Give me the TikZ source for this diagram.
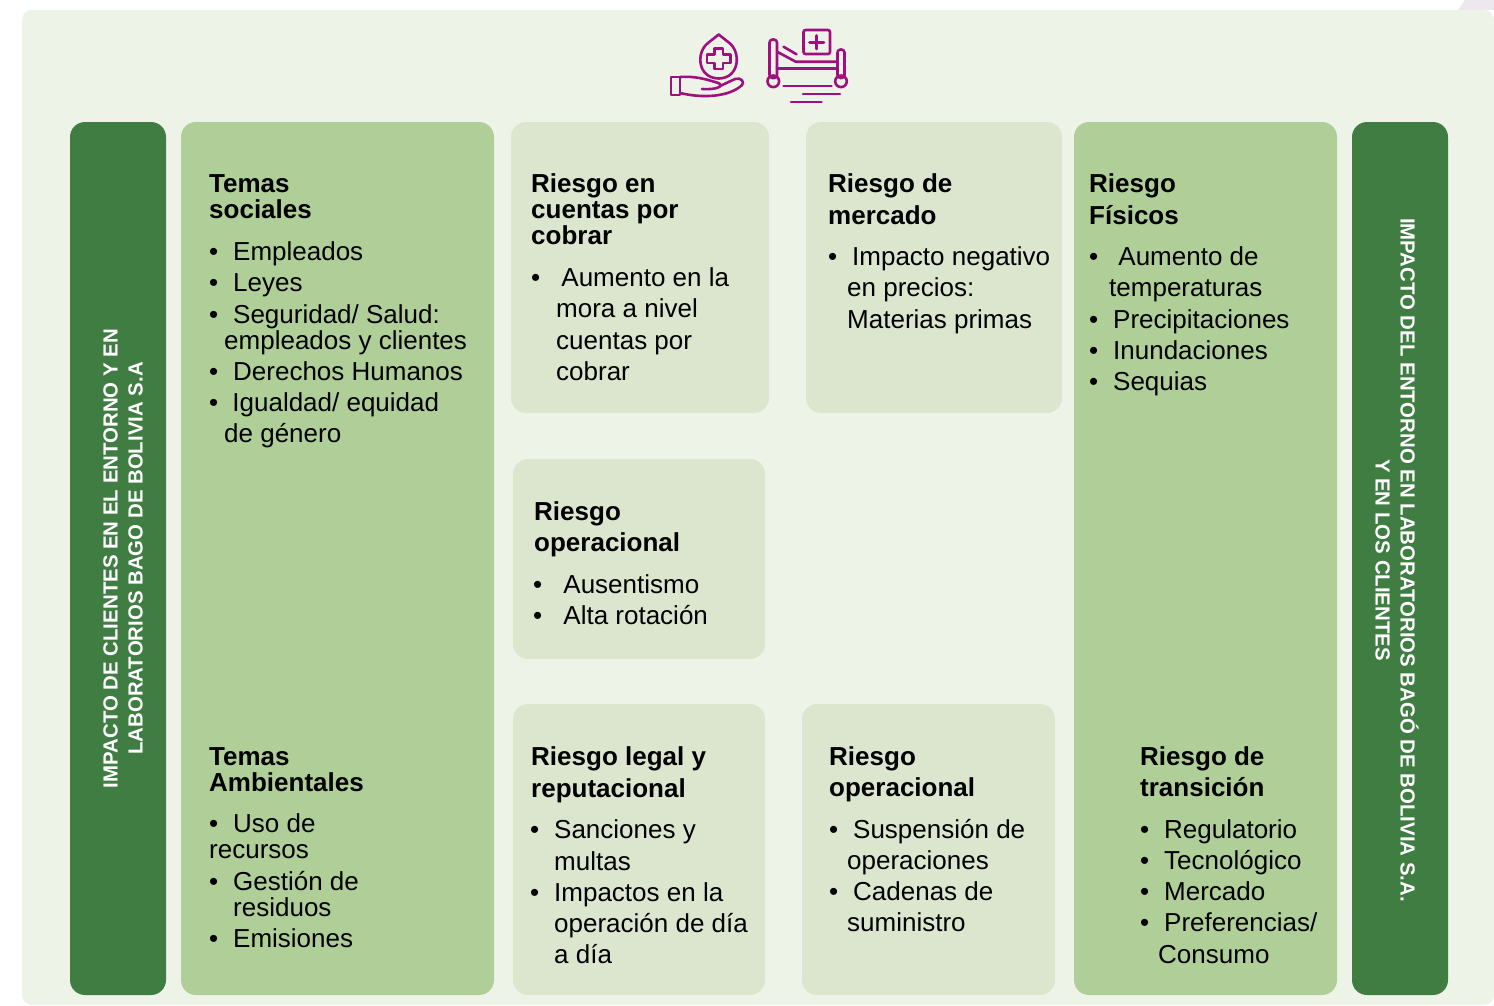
\documentclass[tikz,border=0pt]{standalone}
\usepackage{fontspec}
\setmainfont{Liberation Sans}
\definecolor{paneBg}{HTML}{EEF3E8}
\definecolor{darkGreen}{HTML}{3F7D42}
\definecolor{midGreen}{HTML}{AFCE98}
\definecolor{paleGreen}{HTML}{DCE6CE}
\definecolor{iconPink}{HTML}{A00F80}
\definecolor{cornerTint}{HTML}{ECE8EE}
\newcommand{\blt}[1][24]{\makebox[#1pt][l]{\textbullet}}
\tikzset{
	card/.style={anchor=north west, inner sep=0, outer sep=0, rounded corners=15pt},
	darkcard/.style={card, fill=darkGreen, minimum width=96pt, minimum height=873pt},
	midcard/.style={card, fill=midGreen},
	palecard/.style={card, fill=paleGreen},
	head/.style={anchor=base west, inner sep=0, font=\fontsize{26}{26}\selectfont\bfseries},
	body/.style={anchor=base west, inner sep=0, font=\fontsize{26}{26}\selectfont},
	vert/.style={inner sep=0, align=center, text=white, font=\fontsize{20.4}{25}\selectfont\bfseries},
	icon/.style={draw=iconPink, line width=2.6pt, line join=round, line cap=round}
}
\begin{document}
\begin{tikzpicture}[x=1pt, y=-1pt]
	\useasboundingbox (0,0) rectangle (1494,1005);

	\fill[cornerTint] (1458,10) -- (1465,0) -- (1494,0) -- (1494,10) -- cycle;
	\fill[paneBg, rounded corners=10pt] (22,10) -- (1494,10) -- (1494,1005) -- (22,1005) -- cycle;

	\node[darkcard] (leftbar) at (70,122) {};
	\node[midcard, minimum width=313pt, minimum height=873pt] (temas) at (181,122) {};
	\node[palecard, minimum width=258pt, minimum height=291pt] (cuentas) at (511,122) {};
	\node[palecard, minimum width=256pt, minimum height=291pt] (mercado) at (806,122) {};
	\node[palecard, minimum width=252pt, minimum height=200pt] (opA) at (513,459) {};
	\node[palecard, minimum width=252pt, minimum height=291pt] (legal) at (513,704) {};
	\node[palecard, minimum width=253pt, minimum height=291pt] (opB) at (802,704) {};
	\node[midcard, minimum width=263pt, minimum height=873pt] (fisicos) at (1074,122) {};
	\node[darkcard] (rightbar) at (1352,122) {};

	\node[vert, rotate=90] (leftlabel) at (leftbar.center) [yshift=-5pt] {IMPACTO DE CLIENTES EN EL ENTORNO Y EN\\LABORATORIOS BAGO DE BOLIVIA S.A};
	\node[vert, rotate=-90] (rightlabel) at (1397,560) {IMPACTO DEL ENTORNO EN LABORATORIOS BAGÓ DE BOLIVIA S.A.\\Y EN  LOS CLIENTES};

	% temas sociales
	\node[head] (t1) at (209,192) {Temas};
	\node[head] (t2) at (209,218) {sociales};
	\node[body] (t3) at (209,260) {\blt Empleados};
	\node[body] (t4) at (209,291) {\blt Leyes};
	\node[body] (t5) at (209,323) {\blt Seguridad/ Salud:};
	\node[body] (t6) at (224,349) {empleados y clientes};
	\node[body] (t7) at (209,380) {\blt Derechos Humanos};
	\node[body] (t8) at (209,411) {\blt[16] Igualdad/ equidad};
	\node[body] (t9) at (224,442) {de género};

	% temas ambientales
	\node[head] (a1) at (209,765) {Temas};
	\node[head] (a2) at (209,791) {Ambientales};
	\node[body] (a3) at (209,832) {\blt Uso de};
	\node[body] (a4) at (209,858) {recursos};
	\node[body] (a5) at (209,890) {\blt Gestión de};
	\node[body] (a6) at (233,916) {residuos};
	\node[body] (a7) at (209,947) {\blt Emisiones};

	% cuentas por cobrar
	\node[head] (c1) at (531,192) {Riesgo en};
	\node[head] (c2) at (531,218) {cuentas por};
	\node[head] (c3) at (531,244) {cobrar};
	\node[body] (c4) at (531,286) {\blt[23] Aumento en la};
	\node[body] (c5) at (556,317) {mora a nivel};
	\node[body] (c6) at (556,349) {cuentas por};
	\node[body] (c7) at (556,380) {cobrar};

	% operacional, centro
	\node[head] (o1) at (534,520) {Riesgo};
	\node[head] (o2) at (534,551) {operacional};
	\node[body] (o3) at (533,593) {\blt[23] Ausentismo};
	\node[body] (o4) at (533,624) {\blt[23] Alta rotación};

	% legal
	\node[head] (l1) at (531,765) {Riesgo legal y};
	\node[head] (l2) at (531,797) {reputacional};
	\node[body] (l3) at (530,838) {\blt Sanciones y};
	\node[body] (l4) at (554,870) {multas};
	\node[body] (l5) at (530,901) {\blt Impactos  en la};
	\node[body] (l6) at (554,932) {operación de día};
	\node[body] (l7) at (554,963) {a día};

	% mercado
	\node[head] (m1) at (828,192) {Riesgo de};
	\node[head] (m2) at (828,224) {mercado};
	\node[body] (m3) at (828,265) {\blt Impacto negativo};
	\node[body] (m4) at (847,296) {en precios:};
	\node[body] (m5) at (847,328) {Materias primas};

	% operacional, derecha
	\node[head] (p1) at (829,765) {Riesgo};
	\node[head] (p2) at (829,796) {operacional};
	\node[body] (p3) at (829,838) {\blt Suspensión de};
	\node[body] (p4) at (847,869) {operaciones};
	\node[body] (p5) at (829,900) {\blt Cadenas de};
	\node[body] (p6) at (847,931) {suministro};

	% fisicos
	\node[head] (f1) at (1089,192) {Riesgo};
	\node[head] (f2) at (1089,224) {Físicos};
	\node[body] (f3) at (1089,265) {\blt[22] Aumento de};
	\node[body] (f4) at (1109,296) {temperaturas};
	\node[body] (f5) at (1089,328) {\blt Precipitaciones};
	\node[body] (f6) at (1089,359) {\blt Inundaciones};
	\node[body] (f7) at (1089,390) {\blt Sequias};

	% transicion
	\node[head] (r1) at (1140,765) {Riesgo de};
	\node[head] (r2) at (1140,796) {transición};
	\node[body] (r3) at (1140,838) {\blt Regulatorio};
	\node[body] (r4) at (1140,869) {\blt Tecnológico};
	\node[body] (r5) at (1140,900) {\blt Mercado};
	\node[body] (r6) at (1140,931) {\blt Preferencias/};
	\node[body] (r7) at (1158,963) {Consumo};

	% icono mano
	\draw[icon] (718.7,34.5) -- (708,43) .. controls (696,52) and (697,78) .. (718.7,78.5) .. controls (740,78) and (741,52) .. (729.4,43) -- cycle;
	\draw[icon] (714.5,48.5) -- (723,48.5) -- (723,54.5) -- (730.5,54.5) -- (730.5,63) -- (723,63) -- (723,69) -- (714.5,69) -- (714.5,63) -- (707,63) -- (707,54.5) -- (714.5,54.5) -- cycle;
	\draw[icon] (671,77) rectangle (680,95);
	\draw[icon] (680,77) .. controls (695,76) and (705,79) .. (715,82) .. controls (725,84) and (722,90) .. (702,89);
	\draw[icon] (720,86) -- (735,79) .. controls (741,77) and (745,82) .. (742,85) .. controls (733,94) and (710,100) .. (680,93);

	% icono cama
	\draw[icon, rounded corners=3pt] (769.5,39.5) rectangle (777,78);
	\draw[icon, rounded corners=3pt] (837.5,49.5) rectangle (844.5,78);
	\draw[icon] (773.3,81.3) circle (5.8);
	\draw[icon] (841,81.3) circle (5.8);
	\draw[icon] (777,68.3) -- (837.5,68.3);
	\draw[icon] (777,51.7) -- (795.7,61.7) -- (837.5,61.7);
	\draw[icon] (783.5,46.7) -- (796.5,54.3);
	\draw[icon, rounded corners=2pt] (803.5,30) rectangle (830,54);
	\draw[icon] (809.5,42.3) -- (824,42.3);
	\draw[icon] (816.7,35.5) -- (816.7,49);
	\draw[icon] (783.5,86) -- (831.5,86);
	\draw[icon] (803,94) -- (840,94);
	\draw[icon] (791,102) -- (821.5,102);
\end{tikzpicture}
\end{document}
